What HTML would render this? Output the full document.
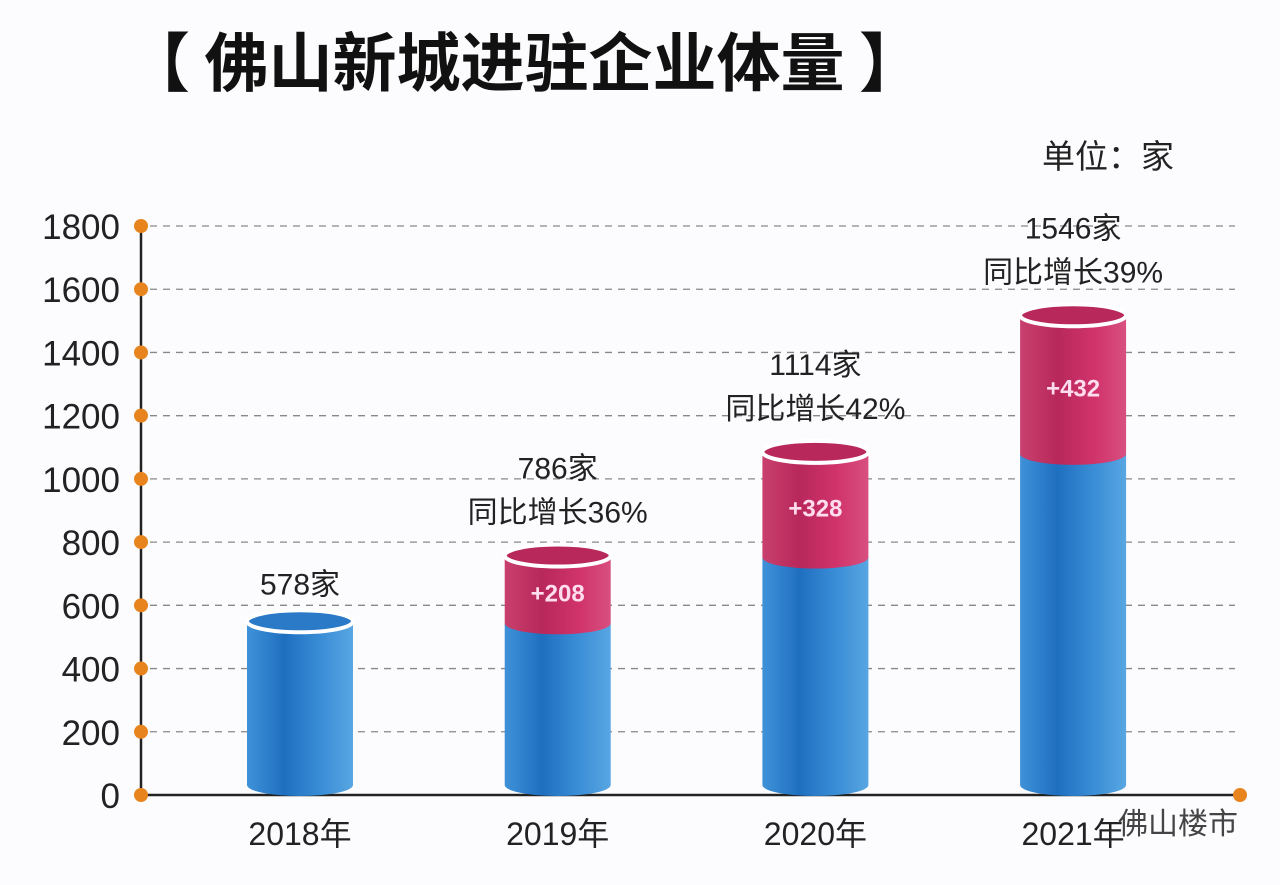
<!DOCTYPE html>
<html><head><meta charset="utf-8"><style>
body{margin:0;background:#fcfcfe;width:1280px;height:880px;overflow:hidden;font-family:"Liberation Sans","Noto Sans CJK SC",sans-serif}
</style></head><body>
<svg id="c" width="1280" height="880" xmlns="http://www.w3.org/2000/svg">
<defs>
<linearGradient id="gb" x1="0" x2="1"><stop offset="0" stop-color="#3f92d8"/><stop offset="0.35" stop-color="#1f6fc0"/><stop offset="0.7" stop-color="#3a8ed6"/><stop offset="1" stop-color="#58a6e2"/></linearGradient>
<linearGradient id="gp" x1="0" x2="1"><stop offset="0" stop-color="#c8406e"/><stop offset="0.35" stop-color="#b8285a"/><stop offset="0.7" stop-color="#d0336a"/><stop offset="1" stop-color="#d85080"/></linearGradient>
</defs>
<text x="126" y="86" font-size="64" font-weight="bold" fill="#111" font-family="'Noto Sans CJK SC',sans-serif">【 佛山新城进驻企业体量 】</text>
<text x="1042" y="168" font-size="33" fill="#222" font-family="'Noto Sans CJK SC',sans-serif">单位：家</text>
<g id="g"></g>
</svg>
<script>
const years=["2018年","2019年","2020年","2021年"];
const totals=[578,786,1114,1546];
const increments=[0,208,328,432];
const growth=["","同比增长36%","同比增长42%","同比增长39%"];
const ticks=[0,200,400,600,800,1000,1200,1400,1600,1800];
const NS="http://www.w3.org/2000/svg",g=document.getElementById('g');
const y=v=>795-v*569/1800, x=i=>300+i*257.7;
function el(t,a,txt){const e=document.createElementNS(NS,t);for(const k in a)e.setAttribute(k,a[k]);if(txt!==undefined)e.textContent=txt;g.appendChild(e);return e;}
ticks.forEach(t=>{
 if(t>0){const l=el('line',{x1:150,x2:1235,y1:y(t),y2:y(t),stroke:'#888','stroke-dasharray':'7 6','stroke-width':1.3});
 
 }
 const tx=el('text',{x:120,y:y(t)+13,'font-size':35,'text-anchor':'end',fill:'#222'},t);
 
 
});
const ax=el('path',{d:`M141 ${y(1800)} V795 H1240`,stroke:'#222','stroke-width':2.5,fill:'none'});


ticks.forEach(t=>{const d=el('circle',{cx:141,cy:y(t),r:7,fill:'#e8841e'});
 
 });
const ed=el('circle',{cx:1240,cy:795,r:7,fill:'#e8841e'});


const W=106,R=11;
years.forEach((yr,i)=>{
 const cx=x(i),l=cx-W/2,top=y(totals[i])+R-2,base=totals[i]-increments[i],bb=y(base)+R,bot=785;
 const b=el('path',{d:`M${l} ${bb} V${bot} A${W/2} ${R} 0 0 0 ${l+W} ${bot} V${bb} Z`,fill:'url(#gb)'});
 
 
 if(increments[i]>0){
  const p=el('path',{d:`M${l} ${top} V${bb} A${W/2} ${R} 0 0 0 ${l+W} ${bb} V${top} Z`,fill:'url(#gp)'});
  
  
  const it=el('text',{x:cx,y:(top+bb)/2+12,'font-size':24,'font-weight':'bold','text-anchor':'middle',fill:'#fde'},'+'+increments[i]);
  
  
 }
 const cap=el('ellipse',{cx:cx,cy:top,rx:W/2,ry:R,fill:increments[i]>0?'#b8285a':'#2a7ac8',stroke:'#fff','stroke-width':4});
 
 
 const tl=el('text',{x:cx,y:top-R-(growth[i]?66:16),'font-size':30,'text-anchor':'middle',fill:'#222'},totals[i]+'家');
 
 
 if(growth[i]){const gl=el('text',{x:cx,y:top-R-22,'font-size':30,'text-anchor':'middle',fill:'#222'},growth[i]);
 
 }
 const xl=el('text',{x:cx,y:845,'font-size':32,'text-anchor':'middle',fill:'#222'},yr);
 
 
});
const wm=el('text',{x:1238,y:834,'font-size':30,'text-anchor':'end',fill:'#444'},'佛山楼市');


</script>
</body></html>
